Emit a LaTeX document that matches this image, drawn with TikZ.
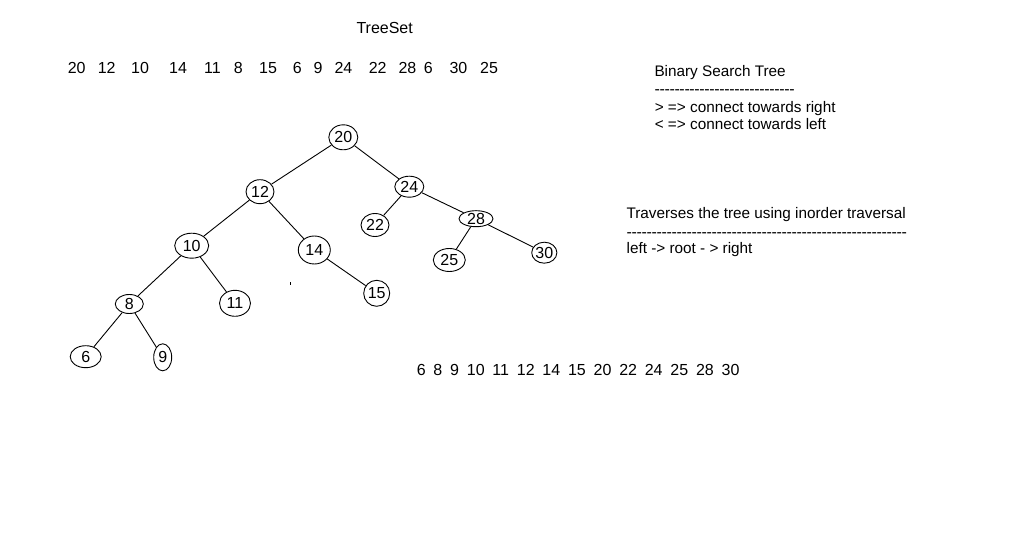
\documentclass[tikz,border=0pt]{standalone}
\usepackage{fontspec}
\setmainfont{Liberation Sans}
\usetikzlibrary{shapes.geometric}

% a row of hyphens, kept apart so they stay hyphens
\newcommand{\hyphens}[1]{\foreach \i in {1,...,#1}{-\kern-0.33pt}}
\newcommand{\gap}{\hspace{7.8pt}}

\begin{document}
\begin{tikzpicture}[x=1pt,y=-1pt,
	every node/.style={font=\fontsize{16}{19}\selectfont},
	key/.style={draw,ellipse,inner sep=0pt,line width=0.9pt},
	txt/.style={anchor=base west,inner sep=0pt},
	note/.style={txt,font=\fontsize{15.3}{19}\selectfont},
	link/.style={line width=0.9pt}]
	\useasboundingbox (0,0) rectangle (1034,534);

	% Title and input sequence
	\node[txt] (title) at (356.3,33.3) {TreeSet};
	\node[txt] (s1) at (67.6,73.5) {20};
	\node[txt] (s2) at (97.6,73.5) {12};
	\node[txt] (s3) at (131,73.5) {10};
	\node[txt] (s4) at (169,73.5) {14};
	\node[txt] (s5) at (204,73.5) {11};
	\node[txt] (s6) at (233.6,73.5) {8};
	\node[txt] (s7) at (259,73.5) {15};
	\node[txt] (s8) at (292.6,73.5) {6};
	\node[txt] (s9) at (313.3,73.5) {9};
	\node[txt] (s10) at (334.3,73.5) {24};
	\node[txt] (s11) at (368.6,73.5) {22};
	\node[txt] (s12) at (398.3,73.5) {28};
	\node[txt] (s13) at (423.6,73.5) {6};
	\node[txt] (s14) at (449.3,73.5) {30};
	\node[txt] (s15) at (480,73.5) {25};

	% Tree
	\node[key,minimum width=29,minimum height=25] (n20) at (343.3,137.3) {20};
	\node[key,minimum width=28,minimum height=24] (n12) at (260,191.7) {12};
	\node[key,minimum width=29,minimum height=21] (n24) at (409.3,186.7) {24};
	\node[key,minimum width=28,minimum height=23] (n22) at (375,225) {22};
	\node[key,minimum width=34,minimum height=15] (n28) at (476,218.7) {28};
	\node[key,minimum width=34,minimum height=25] (n10) at (191.7,245.7) {10};
	\node[key,minimum width=32,minimum height=28] (n14) at (314.3,250) {14};
	\node[key,minimum width=32,minimum height=23] (n25) at (449.3,260) {25};
	\node[key,minimum width=24,minimum height=21] (n30) at (544.3,252.7) {30};
	\node[key,minimum width=28,minimum height=19] (n8) at (129.3,304) {8};
	\node[key,minimum width=31,minimum height=26] (n11) at (235,303.3) {11};
	\node[key,minimum width=26,minimum height=26] (n15) at (376.7,293.3) {15};
	\node[key,minimum width=31,minimum height=22] (n6) at (85.7,356.7) {6};
	\node[key,minimum width=18,minimum height=27] (n9) at (162.7,357.3) {9};

	\draw[link] (n20) -- (n12);
	\draw[link] (n20) -- (n24);
	\draw[link] (n12) -- (n10);
	\draw[link] (n12) -- (n14);
	\draw[link] (n24) -- (n22);
	\draw[link] (n24) -- (n28);
	\draw[link] (n10) -- (n8);
	\draw[link] (n10) -- (n11);
	\draw[link] (n14) -- (n15);
	\draw[link] (n28) -- (n25);
	\draw[link] (n28) -- (n30);
	\draw[link] (n8) -- (n6);
	\draw[link] (n8) -- (n9);
	\fill (290.3,282.5) rectangle (291.3,285.5);

	% Notes
	\node[note] (bstTitle) at (654.3,76.7) {Binary Search Tree};
	\node[txt] (bstRule) at (654.3,94.4) {\hyphens{28}};
	\node[note] (bstRight) at (654.6,112.7) {> => connect towards right};
	\node[note] (bstLeft) at (654.6,130) {< => connect towards left};

	\node[note] (travTitle) at (626.4,218.3) {Traverses the tree using inorder traversal};
	\node[txt] (travRule) at (626.4,237.4) {\hyphens{56}};
	\node[note] (travOrder) at (626.4,254) {left -> root - > right};

	% In-order result
	\node[txt] (inorder) at (416.6,375.3) {6\gap 8\gap 9\gap 10\gap 11\gap 12\gap 14\gap 15\gap 20\gap 22\gap 24\gap 25\gap 28\gap 30};
\end{tikzpicture}
\end{document}
